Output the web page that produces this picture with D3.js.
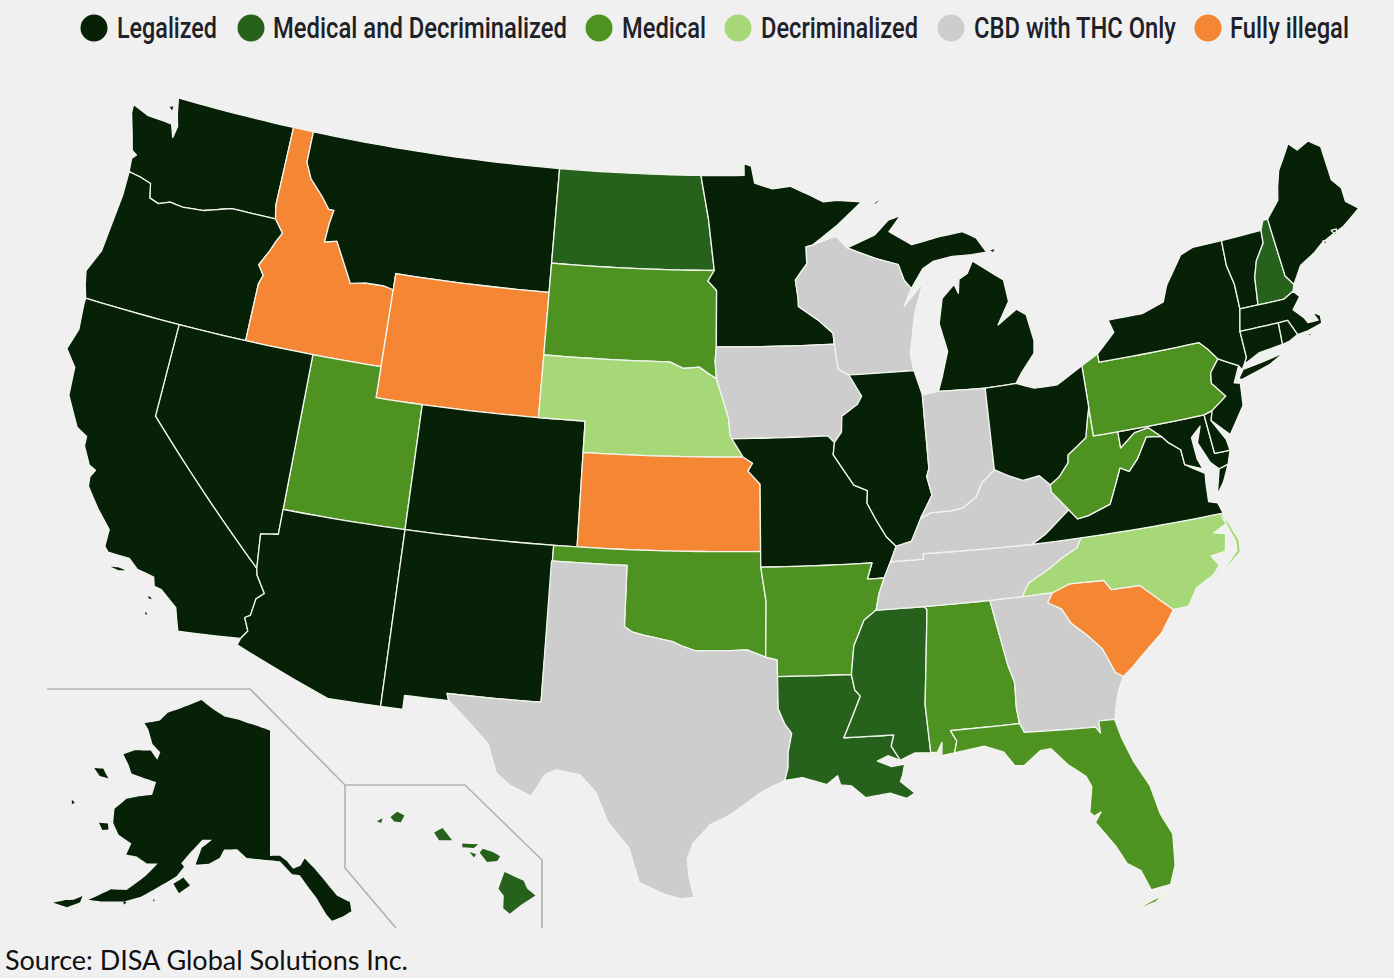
<!DOCTYPE html>
<html>
<head>
<meta charset="utf-8">
<title>Marijuana legality by state</title>
<script src="https://d3js.org/d3.v7.min.js"></script>
<style>
  html, body { margin: 0; padding: 0; background: #f0f0f0; }
  svg { display: block; }
</style>
</head>
<body>
<svg id="map" width="1394" height="978"></svg>
<script>
var legendLabels = ['Legalized', 'Medical and Decriminalized', 'Medical', 'Decriminalized', 'CBD with THC Only', 'Fully illegal'];
var legendColors = ['#062105', '#27621c', '#4e9322', '#a6d877', '#cdcdcd', '#f58634'];

var legalized = ['WA', 'OR', 'CA', 'NV', 'AZ', 'NM', 'CO', 'MT', 'MN', 'MI', 'IL', 'MO', 'OH', 'VA', 'MD', 'DE', 'NJ', 'NY', 'CT', 'RI', 'MA', 'VT', 'ME', 'AK'];
var medicalDecrim = ['ND', 'LA', 'MS', 'NH', 'HI'];
var medical = ['SD', 'UT', 'OK', 'AR', 'AL', 'FL', 'PA', 'WV'];
var decrim = ['NE', 'NC'];
var cbdOnly = ['WI', 'IA', 'IN', 'KY', 'TN', 'GA', 'TX'];
var illegal = ['ID', 'WY', 'KS', 'SC'];
var statusGroups = [legalized, medicalDecrim, medical, decrim, cbdOnly, illegal];

// state outlines, lon/lat, one list per landmass
var outlines = {
  WA: [[[-124.73,48.38],[-123.9,48.17],[-123.1,48.15],[-122.72,48.12],[-122.5,47.72],[-122.42,48.1],[-122.6,48.5],[-122.76,49],[-117.03,49],[-117.04,46.42],[-116.92,46],[-118.98,46],[-119.3,45.93],[-120.2,45.72],[-121.2,45.65],[-121.8,45.7],[-122.3,45.55],[-122.75,45.65],[-122.9,46.1],[-123.4,46.2],[-124,46.27],[-124.07,46.7],[-123.9,46.85],[-124.15,46.95],[-124.4,47.5],[-124.7,48.1]],
       [[-123.1,48.65],[-122.85,48.72],[-122.85,48.5]]],
  OR: [[[-124,46.27],[-123.4,46.2],[-122.9,46.1],[-122.75,45.65],[-122.3,45.55],[-121.8,45.7],[-121.2,45.65],[-120.2,45.72],[-119.3,45.93],[-118.98,46],[-116.92,46],[-116.46,45.6],[-116.67,45.3],[-116.85,44.97],[-117.2,44.45],[-116.9,44.15],[-117.03,43.85],[-117.03,42],[-124.21,42],[-124.4,42.4],[-124.55,42.84],[-124.15,43.6],[-124.06,44.6],[-123.97,45.5]]],
  ID: [[[-117.03,49],[-116.05,49],[-116.05,48],[-115.7,47.5],[-115,47],[-114.6,46.65],[-114.35,46.65],[-114.45,46.2],[-114.5,45.6],[-113.95,45.7],[-113.45,45.05],[-113,44.45],[-112.3,44.55],[-111.5,44.55],[-111.05,44.48],[-111.05,42],[-117.03,42],[-117.03,43.85],[-116.9,44.15],[-117.2,44.45],[-116.85,44.97],[-116.67,45.3],[-116.46,45.6],[-116.92,46],[-117.04,46.42]]],
  MT: [[[-116.05,49],[-104.05,49],[-104.05,45],[-111.05,45],[-111.05,44.48],[-111.5,44.55],[-112.3,44.55],[-113,44.45],[-113.45,45.05],[-113.95,45.7],[-114.5,45.6],[-114.45,46.2],[-114.35,46.65],[-114.6,46.65],[-115,47],[-115.7,47.5],[-116.05,48]]],
  WY: [[[-111.05,45],[-104.05,45],[-104.05,41],[-111.05,41]]],
  UT: [[[-114.05,42],[-111.05,42],[-111.05,41],[-109.05,41],[-109.05,37],[-114.05,37]]],
  CO: [[[-109.05,41],[-102.05,41],[-102.05,37],[-109.05,37]]],
  NV: [[[-120,42],[-114.05,42],[-114.05,36.2],[-114.75,36.1],[-114.63,35],[-120,39]]],
  CA: [[[-124.21,42],[-120,42],[-120,39],[-114.63,35],[-114.57,34.8],[-114.15,34.27],[-114.43,34.05],[-114.52,33.5],[-114.72,33.4],[-114.5,33],[-114.72,32.72],[-117.12,32.53],[-117.25,32.85],[-117.4,33.25],[-118.1,33.7],[-118.4,33.75],[-118.5,34.03],[-119.2,34.15],[-119.6,34.42],[-120.47,34.45],[-120.65,34.6],[-120.65,35.15],[-121.3,35.7],[-121.9,36.3],[-121.95,36.6],[-121.8,36.85],[-122.1,36.96],[-122.5,37.5],[-122.52,37.8],[-123,38],[-123.7,38.9],[-123.8,39.8],[-124.35,40.3],[-124.1,41],[-124.21,41.8]],
       [[-120.4,34.03],[-119.9,34.08],[-119.5,34.03],[-119.9,33.95]], [[-118.6,33.47],[-118.3,33.35],[-118.5,33.3]], [[-118.55,32.98],[-118.35,32.82],[-118.5,32.8]]],
  AZ: [[[-114.05,37],[-109.05,37],[-109.05,31.33],[-111.07,31.33],[-114.8,32.5],[-114.72,32.72],[-114.5,33],[-114.72,33.4],[-114.52,33.5],[-114.43,34.05],[-114.15,34.27],[-114.57,34.8],[-114.63,35],[-114.75,36.1],[-114.05,36.2]]],
  NM: [[[-109.05,37],[-103,37],[-103.04,32],[-106.62,32],[-106.53,31.78],[-108.21,31.78],[-108.21,31.33],[-109.05,31.33]]],
  ND: [[[-104.05,49],[-97.23,49],[-96.85,47.6],[-96.56,45.94],[-104.05,45.94]]],
  SD: [[[-104.05,45.94],[-96.56,45.94],[-96.85,45.6],[-96.45,45.3],[-96.45,43.5],[-96.5,43.05],[-96.44,42.49],[-96.7,42.6],[-97.2,42.85],[-97.9,42.8],[-98.5,43],[-104.05,43]]],
  NE: [[[-104.05,43],[-98.5,43],[-97.9,42.8],[-97.2,42.85],[-96.7,42.6],[-96.44,42.49],[-96.1,41.7],[-95.9,41.2],[-95.85,40.7],[-95.77,40.58],[-95.3,40],[-102.05,40],[-102.05,41],[-104.05,41]]],
  KS: [[[-102.05,40],[-95.3,40],[-94.9,39.8],[-95.1,39.55],[-94.6,39.13],[-94.62,37],[-102.05,37]]],
  OK: [[[-103,37],[-94.62,37],[-94.62,36.5],[-94.43,35.4],[-94.48,33.64],[-95.2,33.88],[-96,33.85],[-96.6,33.85],[-97.2,33.85],[-97.7,33.98],[-98.1,34.13],[-99.2,34.3],[-99.7,34.4],[-100,34.56],[-100,36.5],[-103,36.5]]],
  TX: [[[-103.04,36.5],[-100,36.5],[-100,34.56],[-99.7,34.4],[-99.2,34.3],[-98.1,34.13],[-97.7,33.98],[-97.2,33.85],[-96.6,33.85],[-96,33.85],[-95.2,33.88],[-94.48,33.64],[-94.04,33.55],[-94.04,33.02],[-94.04,31.99],[-93.8,31.5],[-93.55,31.2],[-93.7,30.6],[-93.72,30.1],[-93.85,29.7],[-94.7,29.35],[-95.1,29.1],[-95.9,28.6],[-96.6,28.3],[-97.2,27.7],[-97.4,27.2],[-97.35,26.7],[-97.15,25.96],[-97.6,25.9],[-98.2,26.05],[-99.1,26.4],[-99.5,27.5],[-100.3,28.3],[-100.8,29.25],[-101.4,29.77],[-102.3,29.88],[-102.7,29.7],[-103.15,28.98],[-104,29.3],[-104.5,29.65],[-104.9,30.55],[-106,31.4],[-106.53,31.78],[-106.62,32],[-103.04,32]]],
  MN: [[[-97.23,49],[-95.15,49],[-95.15,49.38],[-94.8,49.3],[-94.65,48.75],[-93.8,48.55],[-92.95,48.62],[-92,48.3],[-91.4,48.07],[-90.75,48.1],[-89.6,48],[-90.8,47.3],[-92,46.7],[-92.3,46.65],[-92.3,46.1],[-92.85,45.6],[-92.75,45],[-92.75,44.75],[-91.9,44.3],[-91.25,43.85],[-91.22,43.5],[-96.45,43.5],[-96.45,45.3],[-96.85,45.6],[-96.56,45.94],[-96.85,47.6]]],
  IA: [[[-96.45,43.5],[-91.22,43.5],[-91.1,42.7],[-90.65,42.5],[-90.15,41.8],[-90.35,41.55],[-91.05,41.2],[-91.1,40.7],[-91.42,40.38],[-91.7,40.6],[-95.77,40.58],[-95.85,40.7],[-95.9,41.2],[-96.1,41.7],[-96.44,42.49],[-96.5,43.05]]],
  MO: [[[-95.77,40.58],[-91.7,40.6],[-91.42,40.38],[-91.5,40],[-90.7,39],[-90.15,38.8],[-90.2,38.4],[-89.9,37.9],[-89.5,37.3],[-89.13,36.98],[-89.4,36.5],[-89.7,36],[-90.37,36],[-90.15,36.5],[-94.62,36.5],[-94.62,37],[-94.6,39.13],[-95.1,39.55],[-94.9,39.8],[-95.3,40]]],
  AR: [[[-94.62,36.5],[-90.15,36.5],[-90.37,36],[-89.7,36],[-89.95,35.5],[-90.1,35],[-90.6,34.7],[-91.05,33.9],[-91.2,33],[-94.04,33.02],[-94.04,33.55],[-94.48,33.64],[-94.43,35.4]]],
  LA: [[[-94.04,33.02],[-91.2,33],[-91.1,32.5],[-90.9,32.3],[-91.6,31],[-89.73,31],[-89.85,30.65],[-89.55,30.18],[-90,30.35],[-90.4,30.2],[-89.9,30],[-89.4,30.05],[-89.5,29.7],[-89.6,29.5],[-89.1,29.1],[-89.4,28.95],[-90,29.15],[-90.9,29.05],[-91.4,29.45],[-91.8,29.5],[-91.9,29.8],[-92.3,29.53],[-93.2,29.78],[-93.85,29.7],[-93.72,30.1],[-93.7,30.6],[-93.55,31.2],[-93.8,31.5],[-94.04,31.99]]],
  MS: [[[-90.1,35],[-88.2,35],[-88.1,34.9],[-88.47,31.9],[-88.4,30.35],[-89,30.38],[-89.55,30.18],[-89.85,30.65],[-89.73,31],[-91.6,31],[-90.9,32.3],[-91.1,32.5],[-91.2,33],[-91.05,33.9],[-90.6,34.7]]],
  AL: [[[-88.2,35],[-85.6,35],[-85.18,32.87],[-85,32.3],[-85.05,31.55],[-85,31],[-87.6,31],[-87.4,30.65],[-87.52,30.28],[-88,30.23],[-87.95,30.65],[-88.15,30.35],[-88.4,30.35],[-88.47,31.9],[-88.1,34.9]]],
  GA: [[[-85.6,35],[-83.11,35],[-83.35,34.7],[-82.85,34.45],[-82.55,33.95],[-82,33.5],[-81.5,33],[-81.15,32.2],[-80.87,32.03],[-81.15,31.6],[-81.3,31.2],[-81.45,30.72],[-82.05,30.75],[-82.05,30.36],[-82.2,30.57],[-84.86,30.7],[-85,31],[-85.05,31.55],[-85,32.3],[-85.18,32.87]]],
  FL: [[[-87.6,31],[-85,31],[-84.86,30.7],[-82.2,30.57],[-82.05,30.36],[-82.05,30.75],[-81.45,30.72],[-81.3,30.1],[-81,29.3],[-80.55,28.45],[-80.35,27.5],[-80.03,26.8],[-80.13,25.8],[-80.4,25.2],[-81.1,25.13],[-81.35,25.8],[-81.8,26.1],[-82.1,26.7],[-82.7,27.55],[-82.45,27.85],[-82.7,27.75],[-82.85,27.9],[-82.65,28.7],[-82.8,29.05],[-83.4,29.5],[-83.95,30.08],[-84.35,30.06],[-85,29.65],[-85.35,29.68],[-85.7,30.15],[-86.4,30.4],[-87.52,30.28],[-87.4,30.65]],
       [[-80.4,25.15],[-80.9,24.85],[-81.8,24.55],[-81,24.72]]],
  SC: [[[-83.35,34.7],[-83.11,35],[-82.4,35.2],[-81.05,35.15],[-80.8,34.82],[-79.67,34.8],[-78.55,33.86],[-79.15,33.2],[-79.9,32.7],[-80.45,32.3],[-80.87,32.03],[-81.15,32.2],[-81.5,33],[-82,33.5],[-82.55,33.95],[-82.85,34.45]]],
  NC: [[[-84.32,35],[-83.11,35],[-82.4,35.2],[-81.05,35.15],[-80.8,34.82],[-79.67,34.8],[-78.55,33.86],[-77.95,33.87],[-77.5,34.4],[-76.75,34.7],[-76.45,34.95],[-76.7,35.3],[-76.1,35.35],[-75.95,35.9],[-76.4,36],[-75.85,36.2],[-75.87,36.55],[-81.68,36.59],[-81.9,36.3],[-82.6,36.03],[-83.1,35.77],[-84,35.4]],
       [[-75.87,36.5],[-75.47,35.6],[-75.53,35.23],[-76.53,34.62],[-75.65,35.3],[-75.62,35.6],[-75.95,36.45]]],
  TN: [[[-90.1,35],[-88.2,35],[-85.6,35],[-84.32,35],[-84,35.4],[-83.1,35.77],[-82.6,36.03],[-81.9,36.3],[-81.68,36.59],[-83.68,36.6],[-88.07,36.68],[-88.07,36.5],[-89.4,36.5],[-89.7,36],[-89.95,35.5]]],
  KY: [[[-89.4,36.5],[-88.07,36.5],[-88.07,36.68],[-83.68,36.6],[-83.1,36.85],[-82,37.53],[-82.6,38.17],[-82.6,38.4],[-83,38.73],[-83.7,38.65],[-84.25,38.85],[-84.82,39.1],[-85.4,38.73],[-85.7,38.3],[-86.3,38],[-86.8,37.95],[-87.6,37.95],[-88.05,37.8],[-88.5,37.1],[-89.13,36.98]]],
  VA: [[[-83.68,36.6],[-81.68,36.59],[-75.87,36.55],[-76,36.9],[-76.35,37],[-76.3,37.6],[-76.25,37.9],[-77,38.3],[-77.04,38.79],[-77.5,39.1],[-77.72,39.32],[-78.35,39.4],[-78.87,38.77],[-79.3,38.42],[-79.65,38.58],[-80.3,37.5],[-81.25,37.25],[-81.7,37.2],[-82,37.53],[-83.1,36.85]],
       [[-75.95,37.15],[-75.65,37.95],[-75.25,38.03],[-75.6,37.5]]],
  WV: [[[-82.6,38.4],[-82.6,38.17],[-82,37.53],[-81.7,37.2],[-81.25,37.25],[-80.3,37.5],[-79.65,38.58],[-79.3,38.42],[-78.87,38.77],[-78.35,39.4],[-77.72,39.32],[-78.2,39.68],[-78.8,39.6],[-79.48,39.2],[-79.48,39.72],[-80.52,39.72],[-80.52,40.64],[-80.65,40.3],[-80.85,39.7],[-81.7,39.25],[-81.75,39],[-82.2,38.6]]],
  MD: [[[-79.48,39.72],[-75.79,39.72],[-75.7,38.46],[-75.05,38.45],[-75.25,38.03],[-75.65,37.95],[-75.95,38.2],[-76.3,38.9],[-76.05,39.4],[-76.5,39.1],[-76.45,38.4],[-76.3,38.05],[-77,38.3],[-77.04,38.79],[-77.5,39.1],[-77.72,39.32],[-78.2,39.68],[-78.8,39.6],[-79.48,39.2]]],
  DE: [[[-75.79,39.72],[-75.42,39.8],[-75.55,39.5],[-75.1,38.8],[-75.05,38.45],[-75.7,38.46]]],
  PA: [[[-80.52,41.98],[-79.76,42.27],[-79.76,42],[-75.35,42],[-75.05,41.75],[-74.7,41.36],[-75.13,40.98],[-75.2,40.65],[-74.72,40.15],[-75.42,39.8],[-75.79,39.72],[-80.52,39.72]]],
  NJ: [[[-74.7,41.36],[-73.9,41],[-74.25,40.5],[-74,40.45],[-74.1,39.75],[-74.9,38.93],[-75.55,39.5],[-75.42,39.8],[-74.72,40.15],[-75.2,40.65],[-75.13,40.98]]],
  NY: [[[-79.76,42],[-79.76,42.27],[-78.9,42.85],[-79.05,43.27],[-77.5,43.27],[-76.5,43.5],[-76.2,44],[-75.3,44.85],[-74.7,45],[-73.35,45],[-73.4,44.2],[-73.25,43.55],[-73.27,42.75],[-73.5,42.05],[-73.49,41.2],[-73.65,41],[-73.8,40.85],[-73.9,41],[-74.7,41.36],[-75.05,41.75],[-75.35,42]],
       [[-74.02,40.6],[-73.75,40.85],[-72.6,40.97],[-71.87,41.07],[-72.6,40.8],[-73.9,40.55]]],
  VT: [[[-73.35,45],[-71.5,45.01],[-71.55,44.6],[-72.05,44.1],[-72.3,43.6],[-72.46,42.73],[-73.27,42.75],[-73.25,43.55],[-73.4,44.2]]],
  NH: [[[-71.5,45.01],[-71.3,45.3],[-71.08,45.3],[-70.98,43.4],[-70.7,43.07],[-70.82,42.87],[-71.3,42.7],[-72.46,42.73],[-72.3,43.6],[-72.05,44.1],[-71.55,44.6]]],
  ME: [[[-71.08,45.3],[-70.4,45.8],[-70.25,46.2],[-70,46.7],[-69.23,47.46],[-68.9,47.18],[-68.3,47.36],[-67.8,47.07],[-67.78,45.95],[-67.45,45.6],[-67.45,45.15],[-66.97,44.82],[-67.9,44.4],[-68.5,44.25],[-69,44.1],[-69.5,43.85],[-70.2,43.6],[-70.7,43.07],[-70.98,43.4]],
       [[-68.45,44.4],[-68.2,44.4],[-68.3,44.2]], [[-68.95,44.15],[-68.8,44.15],[-68.85,43.98]]],
  MA: [[[-73.5,42.05],[-73.27,42.75],[-72.46,42.73],[-71.3,42.7],[-70.82,42.87],[-70.6,42.65],[-71.03,42.3],[-70.65,41.95],[-70.55,41.78],[-70.1,41.77],[-70.25,42.07],[-69.95,41.9],[-69.98,41.65],[-70.65,41.53],[-71.12,41.5],[-71.38,42.02],[-71.8,42.02]],
       [[-70.8,41.45],[-70.45,41.4],[-70.6,41.35]], [[-70.2,41.3],[-69.95,41.3],[-70.05,41.24]]],
  RI: [[[-71.8,42.02],[-71.38,42.02],[-71.12,41.5],[-71.5,41.37],[-71.86,41.32]]],
  CT: [[[-73.5,42.05],[-71.8,42.02],[-71.86,41.32],[-72.9,41.25],[-73.65,41],[-73.49,41.2]]],
  MI: [[[-86.82,41.76],[-84.8,41.7],[-83.45,41.73],[-83.15,42.05],[-82.5,42.6],[-82.42,43],[-82.6,43.85],[-83,44.07],[-83.9,43.65],[-83.3,44.35],[-83.4,45.05],[-84.7,45.78],[-85,45.4],[-85.4,45.25],[-85.5,44.8],[-85.65,45.1],[-86.25,44.7],[-86.5,43.9],[-86.25,43],[-86.6,42.2]],
       [[-90.4,46.55],[-89.1,46.9],[-88.4,47.35],[-87.8,47.47],[-88.4,46.98],[-87.4,46.5],[-86.1,46.67],[-85,46.75],[-84.4,46.5],[-84,46],[-84.7,45.98],[-85.6,46],[-86.5,45.9],[-87,45.7],[-87.6,45.1],[-87.9,45.4],[-88.1,45.9],[-89.1,46.15]],
       [[-89.2,47.85],[-88.4,48.2],[-88.9,47.9]], [[-83.9,46.05],[-83.55,46.1],[-83.7,45.95]]],
  WI: [[[-92.3,46.65],[-92,46.7],[-90.9,46.95],[-90.4,46.55],[-89.1,46.15],[-88.1,45.9],[-87.9,45.4],[-87.6,45.1],[-88,44.55],[-87.05,45.25],[-87.55,44.3],[-87.9,43],[-87.8,42.49],[-90.65,42.5],[-91.1,42.7],[-91.22,43.5],[-91.25,43.85],[-91.9,44.3],[-92.75,44.75],[-92.75,45],[-92.85,45.6],[-92.3,46.1]]],
  IL: [[[-90.65,42.5],[-87.8,42.49],[-87.53,41.7],[-87.53,39.35],[-87.65,39.1],[-87.5,38.5],[-88.05,37.8],[-88.5,37.1],[-89.13,36.98],[-89.5,37.3],[-89.9,37.9],[-90.2,38.4],[-90.15,38.8],[-90.7,39],[-91.5,40],[-91.42,40.38],[-91.1,40.7],[-91.05,41.2],[-90.35,41.55],[-90.15,41.8]]],
  IN: [[[-87.53,41.7],[-86.82,41.76],[-84.8,41.7],[-84.82,39.1],[-85.4,38.73],[-85.7,38.3],[-86.3,38],[-86.8,37.95],[-87.6,37.95],[-88.05,37.8],[-87.5,38.5],[-87.65,39.1],[-87.53,39.35]]],
  OH: [[[-84.8,41.7],[-83.45,41.73],[-82.7,41.5],[-81.7,41.5],[-80.52,41.98],[-80.52,40.64],[-80.65,40.3],[-80.85,39.7],[-81.7,39.25],[-81.75,39],[-82.2,38.6],[-82.6,38.4],[-83,38.73],[-83.7,38.65],[-84.25,38.85],[-84.82,39.1]]],
  AK: [[[-141,69.65],[-141,60.3],[-139.5,60.3],[-138.5,59.9],[-137.6,59.3],[-136.5,59.5],[-135.8,60],[-134.5,59.2],[-133.2,58.2],[-131.8,57],[-130.2,56.4],[-130.2,55.7],[-131.5,55.4],[-132.9,55.2],[-133.5,55.7],[-134.6,57],[-136.7,58.8],[-137.8,58.9],[-139.5,59.9],[-141.5,60],[-144.5,60.1],[-146,60.7],[-148,60.6],[-148.5,59.95],[-150,59.4],[-151.9,59.2],[-151.4,60.5],[-150,61.2],[-151.5,61.1],[-153,60],[-154,59.1],[-153.5,58.9],[-154.3,58.1],[-156.5,57],[-158.4,56],[-160.5,55.3],[-163.2,54.8],[-164.8,54.6],[-162.5,55.9],[-160.5,56.2],[-158.5,57.6],[-157.3,58.7],[-158.8,58.5],[-160.5,58.8],[-162,58.7],[-161.8,59.6],[-164,59.9],[-165.4,60.6],[-166,61.6],[-164.8,62.6],[-163,63.1],[-161,63.5],[-161,64.5],[-163,64.5],[-165.5,64.5],[-166.5,65],[-168.1,65.6],[-166.5,66.2],[-163.7,66.6],[-162,66.1],[-161.9,66.7],[-163.8,67.1],[-165.5,68],[-166.7,68.35],[-164,68.95],[-163,69.7],[-160,70.5],[-156.7,71.35],[-154,70.9],[-151,70.45],[-148,70.35],[-144,70]],
       [[-154.5,57.5],[-153.3,58.1],[-152.2,57.6],[-153.5,56.9]], [[-171.7,63.75],[-170.3,64],[-168.8,63.5],[-170.3,63.4]], [[-167.4,60.2],[-166.1,60.4],[-165.7,60],[-166.5,59.8]], [[-172.6,60.9],[-172,60.8],[-172.3,60.6]], [[-168.8,53.4],[-167.5,53.95],[-166.6,54.2],[-165.7,54.7],[-165.7,54.2],[-167,53.5]], [[-160.5,55.4],[-160,55.3],[-160.3,55.1]], [[-156.7,56.1],[-156.5,56],[-156.6,55.85]]],
  HI: [[[-155.85,20.27],[-155.2,19.98],[-155.08,19.72],[-154.8,19.5],[-155.3,19.2],[-155.68,18.92],[-155.9,19.1],[-155.88,19.5],[-156.06,19.73]],
       [[-156.7,20.9],[-156.6,21.03],[-156.25,20.92],[-156,20.78],[-156.1,20.63],[-156.45,20.6]],
       [[-157.3,21.2],[-156.75,21.17],[-156.9,21.05],[-157.3,21.08]],
       [[-157.05,20.92],[-156.82,20.85],[-156.9,20.74]],
       [[-158.27,21.55],[-157.98,21.7],[-157.65,21.3],[-158.1,21.3]],
       [[-159.78,22.05],[-159.55,22.22],[-159.3,22.1],[-159.42,21.88],[-159.65,21.9]],
       [[-160.25,21.9],[-160.05,22],[-160.1,21.85]]]
};

// frame lines around the insets, screen position
var insetFrames = [
  [[47,689],[250,689],[345,785],[465,785],[542,860],[542,928]],
  [[345,785],[345,868],[396,928]]
];

var svg = d3.select('#map');
var stateColor = {};
statusGroups.forEach(function(group, i) {
  group.forEach(function(id) { stateColor[id] = legendColors[i]; });
});

var mainland = d3.geoAlbers().scale(1790).translate([712, 498]);
var alaska = d3.geoConicEqualArea().rotate([141, 0]).center([0, 64]).parallels([55, 65]).scale(770).translate([270, 806]);
var hawaii = d3.geoConicEqualArea().rotate([157, 0]).center([0, 20.5]).parallels([8, 18]).scale(1775).translate([471, 865]);

// long straight runs follow the parallel, not the great circle
function densify(ring) {
  var out = [];
  ring.forEach(function(p, i) {
    var q = ring[(i + 1) % ring.length];
    var steps = Math.ceil(Math.max(Math.abs(q[0] - p[0]), Math.abs(q[1] - p[1])) / 0.5);
    d3.range(steps).forEach(function(s) {
      out.push([p[0] + (q[0] - p[0]) * s / steps, p[1] + (q[1] - p[1]) * s / steps]);
    });
  });
  out.push(out[0]);
  if (d3.geoArea({ type: 'Polygon', coordinates: [out] }) > 2 * Math.PI) out.reverse();
  return [out];
}

function projectionFor(id) {
  if (id === 'AK') return alaska;
  if (id === 'HI') return hawaii;
  return mainland;
}

svg.append('rect').attr('width', 1394).attr('height', 978).attr('fill', '#f0f0f0');

svg.append('g').selectAll('path')
  .data(insetFrames)
  .enter().append('path')
  .attr('d', d3.line())
  .attr('fill', 'none')
  .attr('stroke', '#b4b4b4')
  .attr('stroke-width', 1.7);

svg.append('g').selectAll('path')
  .data(Object.keys(outlines))
  .enter().append('path')
  .attr('d', function(id) {
    return d3.geoPath(projectionFor(id))({ type: 'MultiPolygon', coordinates: outlines[id].map(densify) });
  })
  .attr('fill', function(id) { return stateColor[id]; })
  .attr('stroke', function(id) { return id === 'AK' || id === 'HI' ? 'none' : '#f2f5ee'; })
  .attr('stroke-width', 1.3)
  .attr('stroke-linejoin', 'round');

// legend: swatch centre, text start and text width
var legendSwatchX = [94, 251, 599, 738, 951, 1208];
var legendTextX = [117, 273, 622, 761, 974, 1230];
var legendTextW = [100, 294, 84, 157, 202, 119];

var legend = svg.append('g').selectAll('g')
  .data(legendLabels)
  .enter().append('g');

legend.append('circle')
  .attr('cx', function(d, i) { return legendSwatchX[i]; })
  .attr('cy', 28)
  .attr('r', 13.5)
  .attr('fill', function(d, i) { return legendColors[i]; });

legend.append('text')
  .attr('x', function(d, i) { return legendTextX[i]; })
  .attr('y', 38)
  .attr('textLength', function(d, i) { return legendTextW[i]; })
  .attr('lengthAdjust', 'spacingAndGlyphs')
  .attr('font-family', 'Roboto')
  .attr('font-size', 29)
  .attr('font-weight', 500)
  .attr('fill', '#1f2128')
  .text(function(d) { return d; });

svg.append('text')
  .attr('x', 5)
  .attr('y', 970)
  .attr('textLength', 403)
  .attr('lengthAdjust', 'spacingAndGlyphs')
  .attr('font-family', 'Lato')
  .attr('font-size', 27)
  .attr('fill', '#111')
  .text('Source: DISA Global Solutions Inc.');
</script>
</body>
</html>
